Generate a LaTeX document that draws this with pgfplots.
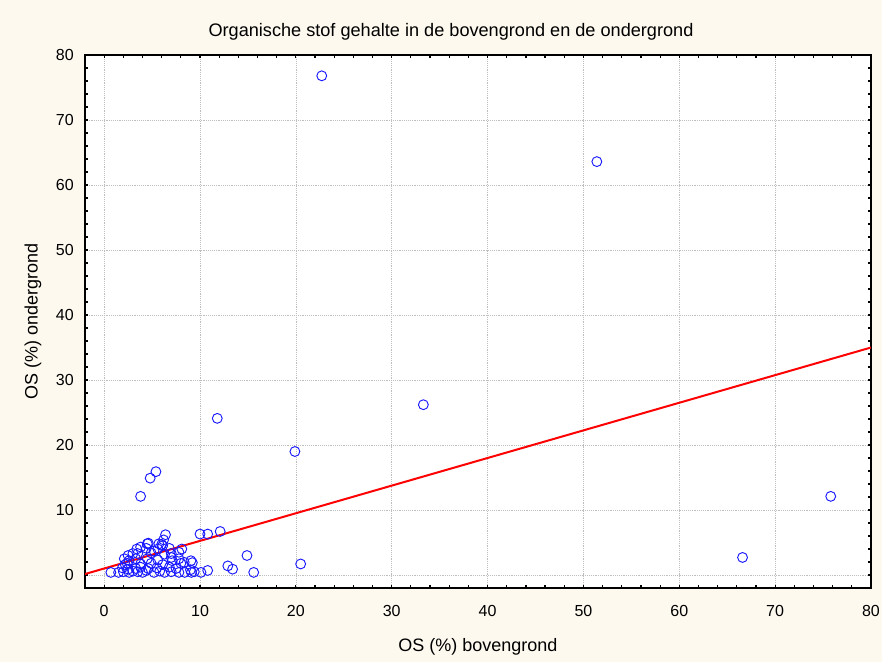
\documentclass[border=0pt]{standalone}
\usepackage{pgfplots}
\pgfplotsset{compat=1.18}
\usepackage{fontspec}
\setmainfont{Liberation Sans}
\definecolor{bgc}{RGB}{253,249,238}
\definecolor{ptblue}{RGB}{25,25,255}
\definecolor{gridc}{RGB}{190,190,190}
\begin{document}
\begin{tikzpicture}
\useasboundingbox (0,0) rectangle (661.5pt,496.5pt);
\fill[bgc] (0,0) rectangle (661.5pt,496.5pt);
\begin{axis}[
  at={(63.75pt,55.5pt)}, anchor=south west,
  scale only axis, width=589.5pt, height=399.75pt,
  xmin=-2, xmax=80, ymin=-2, ymax=80,
  xtick={0,10,...,80}, ytick={0,10,...,80},
  minor x tick num=4, minor y tick num=4,
  major tick length=2.5pt, minor tick length=2.5pt,
  tick style={line width=0.9pt, black},
  axis line style={line width=1.1pt},
  axis background/.style={fill=white},
  xmajorgrids, ymajorgrids,
  major grid style={gridc, densely dotted, line width=0.5pt},
  /pgf/number format/assume math mode=true,
  tick label style={font=\fontsize{12}{14}\selectfont},
  xticklabel style={anchor=center, yshift=-17pt},
  yticklabel style={anchor=east, inner sep=0pt, xshift=-8.25pt},
  xlabel={OS (\%) bovengrond},
  ylabel={OS (\%) ondergrond},
  every axis x label/.style={at={(axis description cs:0.5,0)}, anchor=center, yshift=-44.25pt, font=\fontsize{13.5}{16}\selectfont},
  every axis y label/.style={at={(axis description cs:0,0.5)}, anchor=center, xshift=-39pt, rotate=90, font=\fontsize{13.5}{16}\selectfont},
  clip=true,
]
\addplot[red, line width=1.5pt] coordinates {(-2,0.15) (80,35)};
\addplot[only marks, mark=o, mark size=3.7pt, ptblue, mark options={line width=0.7pt}] coordinates {
(22.7,76.8) (51.4,63.6) (11.8,24.1) (33.3,26.2) (19.9,19.0)
(3.8,12.1) (4.8,14.9) (5.4,15.9) (75.8,12.1) (66.6,2.7)
(20.5,1.7) (15.6,0.4) (14.9,3.0) (12.1,6.7) (10.0,6.3) (10.8,6.3)
(12.9,1.4) (13.4,0.9)
(0.7,0.4) (1.5,0.4) (2.0,0.5) (2.6,0.4) (3.0,0.6) (3.5,0.5) (4.0,0.4) (4.4,0.7)
(5.2,0.4) (5.8,0.6) (6.3,0.4) (7.0,0.5) (7.8,0.4) (8.4,0.4) (9.1,0.4) (9.4,0.5)
(10.1,0.4) (10.8,0.7)
(1.9,1.1) (2.5,0.9) (3.3,1.0) (3.8,1.2) (4.6,1.0) (5.5,1.1) (6.8,1.2) (7.5,1.0) (9.0,0.8)
(2.2,1.6) (2.4,1.8) (3.8,1.7) (4.9,1.8) (6.1,1.6) (7.1,2.2) (8.0,1.8) (8.35,1.95) (9.2,1.9)
(2.1,2.5) (2.6,2.2) (3.3,2.5) (4.5,2.5) (5.6,2.3) (7.0,2.7) (7.8,2.5) (9.05,2.2)
(2.5,3.0) (3.0,3.3) (3.5,3.3) (4.9,3.4) (6.3,3.2) (7.0,3.3) (7.8,3.5) (5.2,3.7)
(3.4,4.0) (3.8,4.3) (4.4,4.1) (5.6,4.0) (6.8,4.1) (8.1,4.0) (4.6,4.9)
(4.5,4.8) (5.7,4.8) (6.0,4.7) (6.1,4.5)
(6.2,5.4) (6.4,6.2)
};
\end{axis}
\node[font=\fontsize{13.6}{16}\selectfont] at (338.25pt,472.5pt) {Organische stof gehalte in de bovengrond en de ondergrond};
\end{tikzpicture}
\end{document}
